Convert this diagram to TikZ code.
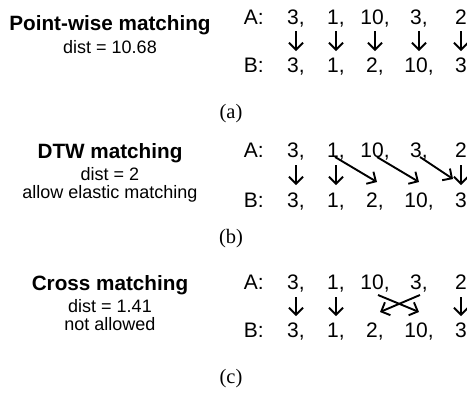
\documentclass[tikz,border=0pt]{standalone}
\usepackage{fontspec}
\setmainfont{Liberation Sans}
\newfontfamily\capfont{Liberation Serif}
\usetikzlibrary{arrows.meta}
\begin{document}
\begin{tikzpicture}[x=1pt,y=-1pt,
  num/.style={inner sep=0pt, anchor=base, font=\fontsize{21}{22}\selectfont},
  ttl/.style={inner sep=0pt, anchor=base, font=\fontsize{20.7}{22}\selectfont\bfseries},
  sub/.style={inner sep=0pt, anchor=base, font=\fontsize{18}{20}\selectfont},
  sublabel/.style={inner sep=0pt, anchor=base, font=\fontsize{20.5}{22}\selectfont\capfont},
  arr/.style={line width=1.9pt, -{Straight Barb[length=7pt,width=14pt]}}
]
\fill[white] (0,0) rectangle (467,397);
\useasboundingbox (0,0) rectangle (467,397);
\begin{scope}
\clip (0,0) rectangle (467,397);
% ---------------- (a) point-wise
\node[ttl] (t1) at (110,30) {Point-wise matching};
\node[sub] (s1) at (110,53) {dist = 10.68};
\node[num, anchor=base east] (pAl) at (264,24) {A:};
\node[num] (pA1) at (296,24) {3,};
\node[num] (pA2) at (336,24) {1,};
\node[num] (pA3) at (375,24) {10,};
\node[num] (pA4) at (419,24) {3,};
\node[num] (pA5) at (461,24) {2};
\node[num, anchor=base east] (pBl) at (264,72) {B:};
\node[num] (pB1) at (296,72) {3,};
\node[num] (pB2) at (336,72) {1,};
\node[num] (pB3) at (375,72) {2,};
\node[num] (pB4) at (419,72) {10,};
\node[num] (pB5) at (461,72) {3};
\foreach \i in {1,...,5}
  \draw[arr] ([yshift=-7pt]pA\i.base) -- ([yshift=21pt]pB\i.base);
\node[sublabel] (la) at (231,118) {(a)};
% ---------------- (b) DTW
\node[ttl] (t2) at (110,158) {DTW matching};
\node[sub] (s2) at (110,180) {dist = 2};
\node[sub] (e2) at (110,198) {allow elastic matching};
\node[num, anchor=base east] (dAl) at (264,157) {A:};
\node[num] (dA1) at (296,157) {3,};
\node[num] (dA2) at (336,157) {1,};
\node[num] (dA3) at (375,157) {10,};
\node[num] (dA4) at (419,157) {3,};
\node[num] (dA5) at (461,157) {2};
\node[num, anchor=base east] (dBl) at (264,207) {B:};
\node[num] (dB1) at (296,207) {3,};
\node[num] (dB2) at (336,207) {1,};
\node[num] (dB3) at (375,207) {2,};
\node[num] (dB4) at (419,207) {10,};
\node[num] (dB5) at (461,207) {3};
\foreach \i in {1,2,5}
  \draw[arr] ([yshift=-8pt]dA\i.base) -- ([yshift=22pt]dB\i.base);
\draw[arr] ([xshift=-1pt]dA2.base) -- ([xshift=2pt,yshift=25pt]dB3.base);
\draw[arr] ([xshift=2pt]dA3.base) -- ([yshift=25pt]dB4.base);
\draw[arr] ([xshift=1pt]dA4.base) -- ([xshift=-8pt,yshift=28pt]dB5.base);
\node[sublabel] (lb) at (231,243) {(b)};
% ---------------- (c) cross
\node[ttl] (t3) at (110,290) {Cross matching};
\node[sub] (s3) at (110,312) {dist = 1.41};
\node[sub] (e3) at (110,330) {not allowed};
\node[num, anchor=base east] (cAl) at (264,289) {A:};
\node[num] (cA1) at (296,289) {3,};
\node[num] (cA2) at (336,289) {1,};
\node[num] (cA3) at (375,289) {10,};
\node[num] (cA4) at (419,289) {3,};
\node[num] (cA5) at (461,289) {2};
\node[num, anchor=base east] (cBl) at (264,337) {B:};
\node[num] (cB1) at (296,337) {3,};
\node[num] (cB2) at (336,337) {1,};
\node[num] (cB3) at (375,337) {2,};
\node[num] (cB4) at (419,337) {10,};
\node[num] (cB5) at (461,337) {3};
\foreach \i in {1,2,5}
  \draw[arr] ([yshift=-8pt]cA\i.base) -- ([yshift=21pt]cB\i.base);
\draw[arr] ([xshift=3pt,yshift=-6pt]cA3.base) -- ([yshift=25pt]cB4.base);
\draw[arr] ([xshift=1pt,yshift=-6pt]cA4.base) -- ([xshift=5pt,yshift=25pt]cB3.base);
\node[sublabel] (lc) at (231,383) {(c)};
\end{scope}
\end{tikzpicture}
\end{document}
